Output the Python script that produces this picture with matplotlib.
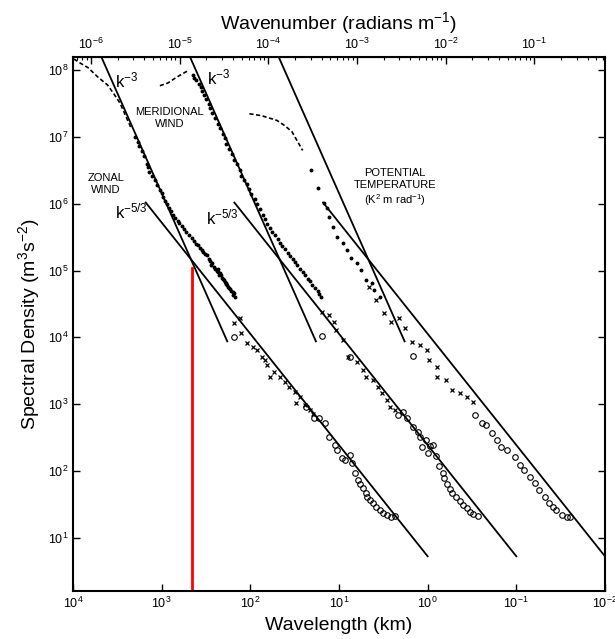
import numpy as np
import matplotlib.pyplot as plt

plt.rcParams['font.family'] = ['Liberation Sans', 'DejaVu Sans']
plt.rcParams['mathtext.fontset'] = 'custom'
plt.rcParams['mathtext.rm'] = 'Liberation Sans'
plt.rcParams['mathtext.it'] = 'Liberation Sans'
plt.rcParams['mathtext.default'] = 'regular'

# spectra as (log10 wavelength [km], log10 spectral density)
zonal_dash = [(3.99, 8.17), (3.92, 8.11), (3.83, 8.04), (3.72, 7.90), (3.61, 7.78),
              (3.53, 7.63), (3.47, 7.51), (3.41, 7.33), (3.35, 7.15)]
zonal_dots = [(3.30, 7.00), (3.27, 6.93), (3.25, 6.86), (3.22, 6.79), (3.20, 6.72),
              (3.17, 6.60), (3.15, 6.55), (3.14, 6.48), (3.11, 6.42), (3.08, 6.35),
              (3.05, 6.28), (3.02, 6.21), (3.00, 6.16), (2.98, 6.11), (2.96, 6.05),
              (2.94, 6.00), (2.92, 5.94), (2.90, 5.90), (2.87, 5.84), (2.85, 5.79),
              (2.82, 5.75), (2.80, 5.72), (2.77, 5.67), (2.75, 5.63), (2.72, 5.58),
              (2.69, 5.53), (2.66, 5.49), (2.63, 5.44), (2.61, 5.40), (2.59, 5.38),
              (2.57, 5.34), (2.55, 5.31), (2.53, 5.28), (2.51, 5.25), (2.49, 5.24),
              (2.47, 5.18), (2.46, 5.14), (2.44, 5.09), (2.43, 5.11), (2.41, 5.06),
              (2.40, 5.02), (2.38, 5.00), (2.37, 5.03), (2.36, 4.98), (2.35, 4.94),
              (2.34, 4.97), (2.33, 4.93), (2.32, 4.89), (2.31, 4.88), (2.30, 4.86),
              (2.29, 4.83), (2.28, 4.80), (2.27, 4.82), (2.26, 4.79), (2.25, 4.75),
              (2.24, 4.74), (2.23, 4.72), (2.22, 4.70), (2.20, 4.68), (2.19, 4.64),
              (2.18, 4.66), (2.17, 4.61)]
zonal_x = [(2.18, 4.22), (2.12, 4.29), (2.10, 4.07), (2.04, 3.92), (1.97, 3.86),
           (1.92, 3.81), (1.87, 3.71), (1.84, 3.66), (1.81, 3.59), (1.78, 3.41),
           (1.73, 3.48), (1.67, 3.41), (1.61, 3.33), (1.56, 3.26), (1.50, 3.18),
           (1.48, 3.02), (1.44, 3.11), (1.38, 2.99), (1.33, 2.91), (1.29, 2.85)]
zonal_circ = [(2.18, 4.01), (1.37, 2.96), (1.28, 2.79), (1.22, 2.79), (1.16, 2.72),
              (1.11, 2.51), (1.05, 2.39), (1.02, 2.31), (0.97, 2.19), (0.93, 2.16),
              (0.88, 2.24), (0.85, 2.12), (0.82, 1.97), (0.79, 1.86), (0.76, 1.80),
              (0.73, 1.74), (0.70, 1.67), (0.68, 1.61), (0.65, 1.56), (0.62, 1.52),
              (0.58, 1.46), (0.54, 1.41), (0.50, 1.37), (0.46, 1.34), (0.41, 1.31),
              (0.37, 1.32)]

merid_dash = [(3.02, 7.77), (2.93, 7.81), (2.84, 7.89), (2.75, 7.96), (2.71, 7.99)]
merid_dots = [(2.65, 7.93), (2.63, 7.89), (2.61, 7.86), (2.58, 7.80), (2.56, 7.75),
              (2.54, 7.69), (2.52, 7.63), (2.50, 7.57), (2.47, 7.50), (2.45, 7.43),
              (2.43, 7.36), (2.40, 7.28), (2.37, 7.20), (2.34, 7.13), (2.31, 7.05),
              (2.29, 6.98), (2.27, 6.90), (2.24, 6.82), (2.21, 6.74), (2.18, 6.66),
              (2.15, 6.59), (2.12, 6.50), (2.10, 6.42), (2.07, 6.36), (2.04, 6.29),
              (2.01, 6.22), (1.99, 6.15), (1.95, 6.08), (1.92, 6.00), (1.89, 5.92),
              (1.86, 5.84), (1.83, 5.77), (1.81, 5.70), (1.78, 5.64), (1.75, 5.58),
              (1.72, 5.53), (1.69, 5.48), (1.66, 5.42), (1.64, 5.37), (1.61, 5.32),
              (1.58, 5.27), (1.55, 5.22), (1.52, 5.18), (1.50, 5.13), (1.47, 5.09),
              (1.44, 5.03), (1.41, 4.98), (1.38, 4.93), (1.35, 4.88), (1.33, 4.84),
              (1.30, 4.79), (1.27, 4.74), (1.24, 4.70), (1.22, 4.65), (1.20, 4.61)]
merid_x = [(1.19, 4.38), (1.11, 4.34), (1.06, 4.23), (1.03, 4.11), (0.96, 3.96),
           (0.90, 3.71), (0.80, 3.63), (0.73, 3.51), (0.69, 3.41), (0.62, 3.36),
           (0.56, 3.26), (0.51, 3.17), (0.46, 3.06), (0.43, 2.96), (0.37, 2.91)]
merid_circ = [(1.19, 4.02), (0.88, 3.71), (0.34, 2.84), (0.28, 2.88), (0.23, 2.79),
              (0.17, 2.66), (0.11, 2.58), (0.09, 2.51), (0.06, 2.36), (0.02, 2.46),
              (0.00, 2.27), (-0.03, 2.37), (-0.06, 2.38), (-0.09, 2.22), (-0.13, 2.07),
              (-0.17, 1.97), (-0.19, 1.89), (-0.22, 1.80), (-0.25, 1.73), (-0.28, 1.67),
              (-0.32, 1.61), (-0.36, 1.55), (-0.40, 1.49), (-0.44, 1.44), (-0.48, 1.39),
              (-0.51, 1.35), (-0.57, 1.32)]

temp_dash = [(2.01, 7.35), (1.87, 7.32), (1.70, 7.25), (1.61, 7.17), (1.53, 7.08),
             (1.47, 6.94), (1.41, 6.80)]
temp_dots = [(1.32, 6.50), (1.24, 6.23), (1.17, 6.02), (1.14, 5.94), (1.11, 5.81),
             (1.07, 5.66), (1.02, 5.51), (0.96, 5.42), (0.91, 5.31), (0.86, 5.19),
             (0.80, 5.12), (0.75, 5.01), (0.69, 4.86), (0.63, 4.82), (0.60, 4.71),
             (0.54, 4.61)]
temp_x = [(0.66, 4.76), (0.58, 4.56), (0.49, 4.37), (0.41, 4.23), (0.32, 4.29),
          (0.26, 4.14), (0.18, 3.93), (0.09, 3.89), (0.01, 3.81), (-0.02, 3.66),
          (-0.10, 3.56), (-0.11, 3.41), (-0.21, 3.36), (-0.27, 3.21), (-0.36, 3.17),
          (-0.44, 3.11), (-0.51, 3.03)]
temp_circ = [(0.17, 3.72), (-0.53, 2.84), (-0.61, 2.72), (-0.66, 2.69), (-0.73, 2.57),
             (-0.78, 2.46), (-0.83, 2.36), (-0.90, 2.31), (-0.98, 2.21), (-1.04, 2.09),
             (-1.09, 2.01), (-1.15, 1.91), (-1.21, 1.82), (-1.26, 1.71), (-1.32, 1.61),
             (-1.37, 1.52), (-1.41, 1.46), (-1.45, 1.41), (-1.51, 1.34), (-1.57, 1.31),
             (-1.60, 1.31)]

# power-law reference lines: log10 S = a + slope*log10(lambda), over a wavelength span
k3_a, k3_slope, k3_span = 8.2 - 3 * 3.68, 3.0, (3.68, 2.26)
k53_a, k53_slope, k53_span = 0.72, 5.0 / 3.0, (3.18, 0.0)
shifts = [0, 1, 2]   # meridional and temperature moved right by 1 and 2 decades

cutoff_lam = 450.0   # km
cutoff_top = 1.1e5


def pts(lst):
    a = np.array(lst)
    return 10 ** a[:, 0], 10 ** a[:, 1]


fig = plt.figure(figsize=(6.15, 6.39), dpi=100)
ax = fig.add_axes([0.1187, 0.0751, 0.865, 0.8357])
ax.set_xscale('log')
ax.set_yscale('log')
ax.set_xlim(1e4, 1e-2)
ax.set_ylim(10 ** 0.2, 10 ** 8.2)

for dash, dots, xs, circ in [(zonal_dash, zonal_dots, zonal_x, zonal_circ),
                             (merid_dash, merid_dots, merid_x, merid_circ),
                             (temp_dash, temp_dots, temp_x, temp_circ)]:
    x, y = pts(dash)
    ax.plot(x, y, color='k', lw=1.2, ls=(0, (2.5, 1.5)))
    x, y = pts(dots)
    ax.plot(x, y, ls='none', marker='o', ms=1.8, color='k')
    x, y = pts(xs)
    ax.plot(x, y, ls='none', marker='x', ms=2.8, mew=0.9, color='k')
    x, y = pts(circ)
    ax.plot(x, y, ls='none', marker='o', ms=4, mfc='none', mec='k', mew=0.8)

for s in shifts:
    for a, slope, span in [(k3_a, k3_slope, k3_span), (k53_a, k53_slope, k53_span)]:
        lam = np.array(span) - s
        ax.plot(10 ** lam, 10 ** (a + slope * (lam + s)), color='k', lw=1.3)

ax.plot([cutoff_lam, cutoff_lam], [10 ** 0.2, cutoff_top], color='red', lw=2)

# labels
ax.text(0.101, 0.957, r'k$^{-3}$', transform=ax.transAxes, fontsize=12, ha='center', va='center')
ax.text(0.274, 0.962, r'k$^{-3}$', transform=ax.transAxes, fontsize=12, ha='center', va='center')
ax.text(0.109, 0.710, r'k$^{-5/3}$', transform=ax.transAxes, fontsize=12, ha='center', va='center')
ax.text(0.281, 0.700, r'k$^{-5/3}$', transform=ax.transAxes, fontsize=12, ha='center', va='center')
ax.text(0.182, 0.886, 'MERIDIONAL\nWIND', transform=ax.transAxes, fontsize=8,
        ha='center', va='center', linespacing=1.2)
ax.text(0.0615, 0.762, 'ZONAL\nWIND', transform=ax.transAxes, fontsize=8,
        ha='center', va='center', linespacing=1.2)
ax.text(0.605, 0.755, 'POTENTIAL\nTEMPERATURE\n(K$^2$ m rad$^{-1}$)', transform=ax.transAxes,
        fontsize=8, ha='center', va='center', linespacing=1.2)

ax.set_xlabel('Wavelength (km)', fontsize=14, labelpad=4)
ax.set_ylabel('Spectral Density (m$^3$s$^{-2}$)', fontsize=14, labelpad=4)

ax.set_xticks([1e4, 1e3, 1e2, 1e1, 1e0, 1e-1, 1e-2])
ax.set_yticks([1e1, 1e2, 1e3, 1e4, 1e5, 1e6, 1e7, 1e8])
ax.minorticks_off()
ax.tick_params(which='major', direction='in', length=5, width=1, labelsize=9,
               right=True, labelright=False)
for sp in ax.spines.values():
    sp.set_linewidth(1.5)


def lam_to_k(lam):
    return 2 * np.pi / (1000.0 * lam)


top = ax.secondary_xaxis('top', functions=(lam_to_k, lam_to_k))
top.set_xticks([1e-6, 1e-5, 1e-4, 1e-3, 1e-2, 1e-1])
top.tick_params(which='major', direction='in', length=5, width=1, labelsize=9)
top.tick_params(which='minor', direction='in', length=2.5, width=0.8)
top.set_xlabel('Wavenumber (radians m$^{-1}$)', fontsize=14, labelpad=6)

fig.savefig('out.png', dpi=100)
